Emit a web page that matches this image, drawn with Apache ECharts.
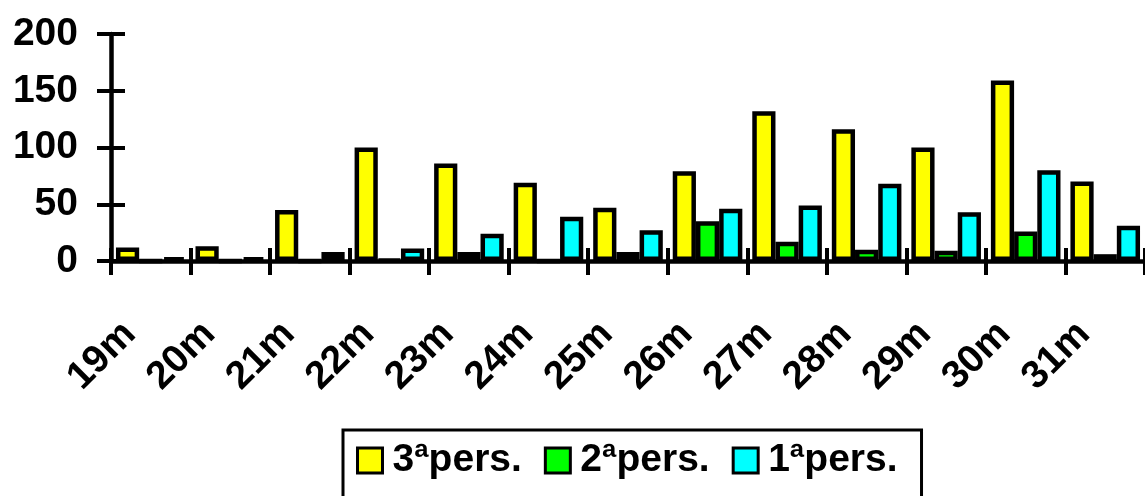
<!DOCTYPE html>
<html>
<head>
<meta charset="utf-8">
<script src="https://cdn.jsdelivr.net/npm/echarts@6/dist/echarts.min.js"></script>
<style>
    html, body { margin: 0; padding: 0; background: #fff; }
    #chart { width: 1145px; height: 496px; }
</style>
</head>
<body>
<div id="chart"></div>
<script>
// 类别与数据
var categories = ['19m', '20m', '21m', '22m', '23m', '24m', '25m', '26m', '27m', '28m', '29m', '30m', '31m'];
var pers3 = [12, 13, 45, 100, 86, 69, 47, 79, 132, 116, 100, 159, 70];
var pers2 = [0, 0, 0, 1, 8, 0, 8, 35, 17, 10, 9, 26, 6];
var pers1 = [3, 3, 8, 11, 24, 39, 27, 46, 49, 68, 43, 80, 31];
var yTicks = [0, 50, 100, 150, 200];

var chart = echarts.init(document.getElementById('chart'));

var fontFamily = '"Liberation Sans", Arial, sans-serif';

function barSeries(name, data, color) {
    return {
        name: name,
        type: 'bar',
        data: data,
        barGap: '0%',
        barCategoryGap: '12.5%',
        itemStyle: {
            color: color,
            borderColor: '#000',
            borderWidth: 4.5
        }
    };
}

var option = {
    animation: false,
    grid: {
        left: 111,
        top: 34,
        width: 1040,
        height: 227
    },
    legend: {
        top: 430,
        left: 343,
        itemWidth: 25,
        itemHeight: 25,
        itemGap: 22,
        padding: [11, 24, 60, 13],
        borderColor: '#000',
        borderWidth: 3,
        icon: 'rect',
        itemStyle: { borderWidth: 3 },
        textStyle: {
            fontFamily: fontFamily,
            fontWeight: 'bold',
            fontSize: 39,
            color: '#000',
            padding: [0, 0, 0, 5]
        },
        data: ['3ªpers.', '2ªpers.', '1ªpers.']
    },
    xAxis: [
        {
            type: 'category',
            data: categories,
            position: 'bottom',
            axisLine: { lineStyle: { color: '#000', width: 4.5 } },
            axisTick: { show: true, inside: false, length: 14, lineStyle: { color: '#000', width: 4 } },
            axisLabel: {
                rotate: 45,
                margin: 46,
                color: '#000',
                fontFamily: fontFamily,
                fontWeight: 'bold',
                fontSize: 39,
                padding: [0, 30, 0, 0]
            }
        },
        {
            // 向内的刻度（模仿十字刻度）
            type: 'category',
            data: categories,
            position: 'bottom',
            axisLine: { show: false },
            axisTick: { show: true, inside: true, length: 13, lineStyle: { color: '#000', width: 4 } },
            axisLabel: { show: false }
        }
    ],
    yAxis: [
        {
            type: 'value',
            min: 0,
            max: 200,
            interval: 50,
            splitLine: { show: false },
            axisLine: { show: true, lineStyle: { color: '#000', width: 4.5 } },
            axisTick: { show: true, inside: false, length: 14, lineStyle: { color: '#000', width: 4 } },
            axisLabel: {
                margin: 33,
                color: '#000',
                fontFamily: fontFamily,
                fontWeight: 'bold',
                fontSize: 39,
                formatter: function(v) {
                    return yTicks.indexOf(v) >= 0 ? String(v) : '';
                }
            }
        },
        {
            type: 'value',
            position: 'left',
            min: 0,
            max: 200,
            interval: 50,
            splitLine: { show: false },
            axisLine: { show: false },
            axisTick: { show: true, inside: true, length: 14, lineStyle: { color: '#000', width: 4 } },
            axisLabel: { show: false }
        }
    ],
    series: [
        barSeries('3ªpers.', pers3, '#ffff00'),
        barSeries('2ªpers.', pers2, '#00ff00'),
        barSeries('1ªpers.', pers1, '#00ffff')
    ]
};

chart.setOption(option);
</script>
</body>
</html>
